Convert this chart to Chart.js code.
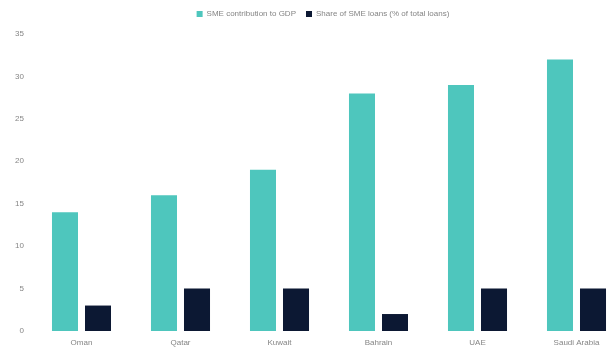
<!DOCTYPE html>
<html lang="en">
<head>
  <meta charset="UTF-8" />
  <title>SME contribution vs SME loans</title>
  <script src="https://cdn.jsdelivr.net/npm/chart.js"></script>
  <style>
    html, body {
      margin: 0;
      padding: 0;
      background: #ffffff;
      overflow: hidden;
    }
    /* chart is a bit wider than the window, right edge gets cut like the reference */
    .wrap {
      width: 626px;
      height: 349px;
    }
  </style>
</head>
<body>
  <div class="wrap">
    <canvas id="barChart" width="626" height="349"></canvas>
  </div>

  <script>
    const countries = ["Oman", "Qatar", "Kuwait", "Bahrain", "UAE", "Saudi Arabia"];
    const gdpShare = [14, 16, 19, 28, 29, 32];
    const loanShare = [3, 5, 5, 2, 5, 5];
    const yTicks = [0, 5, 10, 15, 20, 25, 30, 35];

    const textColor = '#858585';
    const fontFamily = '"Liberation Sans", Arial, sans-serif';

    // fixed legend height, and nudge it right so it sits over the plot
    const legendTweak = {
      id: 'legendTweak',
      beforeInit(chart) {
        const origFit = chart.legend.fit;
        chart.legend.fit = function () {
          origFit.bind(chart.legend)();
          this.height = 34;
        };
      },
      afterLayout(chart) {
        chart.legend.left += 10;
        chart.legend.right += 10;
      }
    };

    const ctx = document.getElementById("barChart").getContext("2d");

    new Chart(ctx, {
      type: 'bar',
      data: {
        labels: countries,
        datasets: [
          {
            label: 'SME contribution to GDP',
            backgroundColor: '#4ec6bd',
            data: gdpShare
          },
          {
            label: 'Share of SME loans (% of total loans)',
            backgroundColor: '#0c1833',
            data: loanShare
          }
        ]
      },
      options: {
        responsive: false,
        animation: false,
        devicePixelRatio: 1,
        layout: { padding: 0 },
        datasets: {
          bar: {
            categoryPercentage: 0.667,
            barPercentage: 0.788
          }
        },
        plugins: {
          legend: {
            position: 'top',
            labels: {
              boxWidth: 6,
              boxHeight: 6,
              padding: 10,
              color: textColor,
              font: { family: fontFamily, size: 8 }
            }
          },
          tooltip: { enabled: false }
        },
        scales: {
          x: {
            grid: { display: false, drawTicks: false },
            border: { display: false },
            ticks: {
              color: textColor,
              padding: 7,
              font: { family: fontFamily, size: 8 }
            },
            afterFit(scale) { scale.height = 18; }
          },
          y: {
            min: 0,
            max: 35,
            grid: { display: false, drawTicks: false },
            border: { display: false },
            ticks: {
              color: textColor,
              padding: 8,
              font: { family: fontFamily, size: 8 }
            },
            afterBuildTicks(scale) {
              scale.ticks = yTicks.map(v => ({ value: v }));
            },
            afterFit(scale) { scale.width = 32; }
          }
        }
      },
      plugins: [legendTweak]
    });
  </script>
</body>
</html>
